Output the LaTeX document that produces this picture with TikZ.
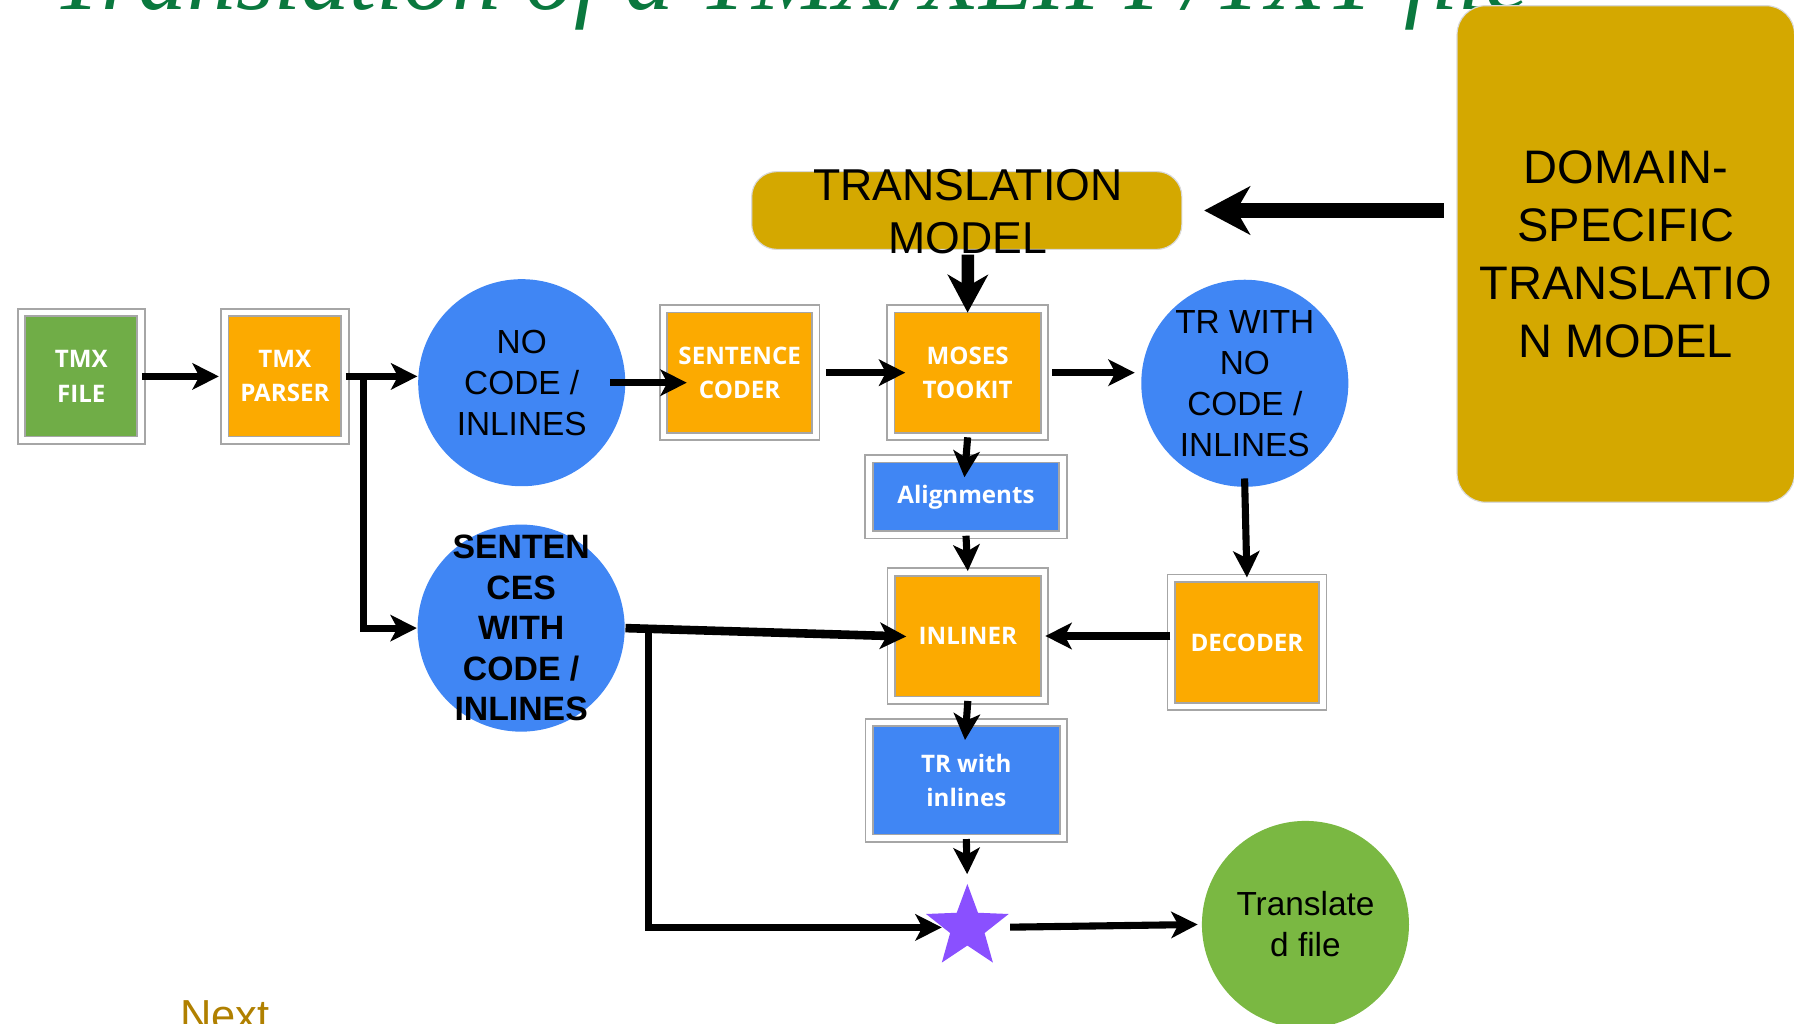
\documentclass[tikz,border=0pt]{standalone}
\usepackage{fontspec}
\usepackage{tikz}
\usetikzlibrary{arrows.meta,shapes.geometric,positioning}

\newfontfamily\arialfont{Liberation Sans}
\newfontfamily\calfont{Open Sans}
\newfontfamily\titlefont{Liberation Serif}

\definecolor{titlegreen}{RGB}{10,120,62}
\definecolor{filegreen}{RGB}{112,173,71}
\definecolor{boxorange}{RGB}{252,170,0}
\definecolor{boxblue}{RGB}{64,134,244}
\definecolor{modelgold}{RGB}{212,168,0}
\definecolor{starpurple}{RGB}{138,80,255}
\definecolor{outgreen}{RGB}{122,184,66}
\definecolor{nextbrown}{RGB}{176,128,0}

\begin{document}
\begin{tikzpicture}[x=0.1mm, y=-0.1mm, node distance=17.8mm,
  box/.style = {draw=gray!70, line width=0.15mm, double=white, double distance=0.5mm,
    inner sep=0, align=center, text=white, font=\calfont\bfseries\fontsize{6}{8.5}\selectfont},
  blob/.style = {circle, fill=boxblue, minimum size=18.1mm, inner sep=0, align=center,
    font=\arialfont\fontsize{8.3}{10.2}\selectfont},
  gold/.style = {draw=gray!30, line width=0.1mm, fill=modelgold},
  flow/.style = {-{Stealth[length=2.3mm, width=2.3mm, inset=0.6mm]}, line width=0.62mm}]

\useasboundingbox (0,0) rectangle (1568,895);

% title and footer
\node[anchor=base west, inner sep=0, text=titlegreen,
  font=\titlefont\itshape\fontsize{24.2}{28}\selectfont] (title) at (45,8)
  {Translation of a TMX/XLIFF/TXT file};
\node[anchor=base west, inner sep=0, text=nextbrown,
  font=\arialfont\fontsize{10.8}{13}\selectfont] (nextlink) at (157,901) {Next};

% boxes
\node[box, fill=filegreen, minimum width=10.45mm, minimum height=11.15mm] (tmxfile) at (71,329) {TMX\\FILE};
\node[box, fill=boxorange, minimum width=10.5mm, minimum height=11.15mm] (parser) [right of=tmxfile] {TMX\\PARSER};
\node[box, fill=boxorange, minimum width=13.3mm, minimum height=11.15mm] (coder) at (646.5,325.75) {SENTENCE\\CODER};
\node[box, fill=boxorange, minimum width=13.45mm, minimum height=11.15mm] (moses) at (845.75,325.75) {MOSES\\TOOKIT};
\node[box, fill=boxblue, minimum width=16.95mm, minimum height=6.65mm] (align) at (844.3,434.25) {Alignments};
\node[box, fill=boxorange, minimum width=13.4mm, minimum height=11.2mm] (inliner) at (845.9,555.9) {INLINER};
\node[box, fill=boxorange, minimum width=13.25mm, minimum height=11.2mm] (decoder) at (1089.85,561.5) {DECODER};
\node[box, fill=boxblue, minimum width=17mm, minimum height=10.1mm] (trinl) at (844.6,682.1) {TR with\\inlines};

% circles
\node[blob] (nocode) at (456,334.5) {NO\\CODE /\\INLINES};
\node[blob] (trwith) at (1088,335) {TR WITH\\NO\\CODE /\\INLINES};
\node[blob, inner sep=-1.2mm, font=\arialfont\bfseries\fontsize{8.4}{10.1}\selectfont] (sentences) at (455.5,549)
  {SENTEN\\CES\\WITH\\CODE /\\INLINES};
\node[blob, fill=outgreen] (translated) at (1141,808) {Translate\\d file};
\node[star, star points=5, star point ratio=2.4, fill=starpurple, minimum size=7.6mm, inner sep=0] (merge) at (845.5,810.6) {};

% models
\node[gold, rounded corners=2.2mm, minimum width=37.6mm, minimum height=6.8mm] (tm) at (845,184) {};
\node[inner sep=0, align=center, font=\arialfont\fontsize{11.1}{13.1}\selectfont] (tmlabel) at (846,185) {TRANSLATION\\MODEL};
\node[gold, rounded corners=2.5mm, minimum width=29.5mm, minimum height=43.4mm, align=center,
  font=\arialfont\fontsize{11.7}{14.4}\selectfont] (domain) at (1421,222) {DOMAIN-\\SPECIFIC\\TRANSLATIO\\N MODEL};

\coordinate (split1) at (318,329);
\coordinate (split2) at (567,550);

% connectors
\draw[flow, shorten >=0.45mm] (tmxfile.east) -- (parser.west);
\draw[flow] (parser.east) -- (parser.east -| nocode.west);
\draw[flow] (split1) |- (sentences.west);
\draw[flow, shorten <=-1.4mm, shorten >=-2.1mm] (nocode.east) -- (nocode.east -| coder.west);
\draw[flow, shorten <=0.8mm, shorten >=-1.35mm] (coder.east) -- (moses.west);
\draw[flow, shorten <=0.6mm, shorten >=0.5mm] (moses.east) -- (moses.east -| trwith.west);
\draw[-{Stealth[length=3.3mm, width=3.5mm, inset=1mm]}, line width=1.1mm, shorten >=-0.4mm] (tmlabel.south) -- (moses.north);
\draw[-{Stealth[length=4mm, width=4.2mm, inset=1.2mm]}, line width=1.3mm, shorten <=1.1mm, shorten >=1.9mm] (domain.west |- tm.east) -- (tm.east);
\draw[flow, shorten >=-1.7mm] (moses.south) -- (align.north);
\draw[flow] (align.south) -- (inliner.north);
\draw[flow, shorten <=-0.8mm] (trwith.south) -- (decoder.north);
\draw[flow, line width=0.66mm] (decoder.west |- inliner.east) -- (inliner.east);
\draw[flow, line width=0.75mm, shorten >=-1.4mm] (sentences.east) -- (inliner.west);
\draw[flow] (split2) |- (merge.west);
\draw[flow, shorten >=-1.6mm] (inliner.south) -- (trinl.north);
\draw[flow, shorten >=0.65mm] (trinl.south) -- (merge.north);
\draw[flow, shorten <=1.5mm, shorten >=0.3mm] (merge.east) -- (translated.west);
\end{tikzpicture}
\end{document}
